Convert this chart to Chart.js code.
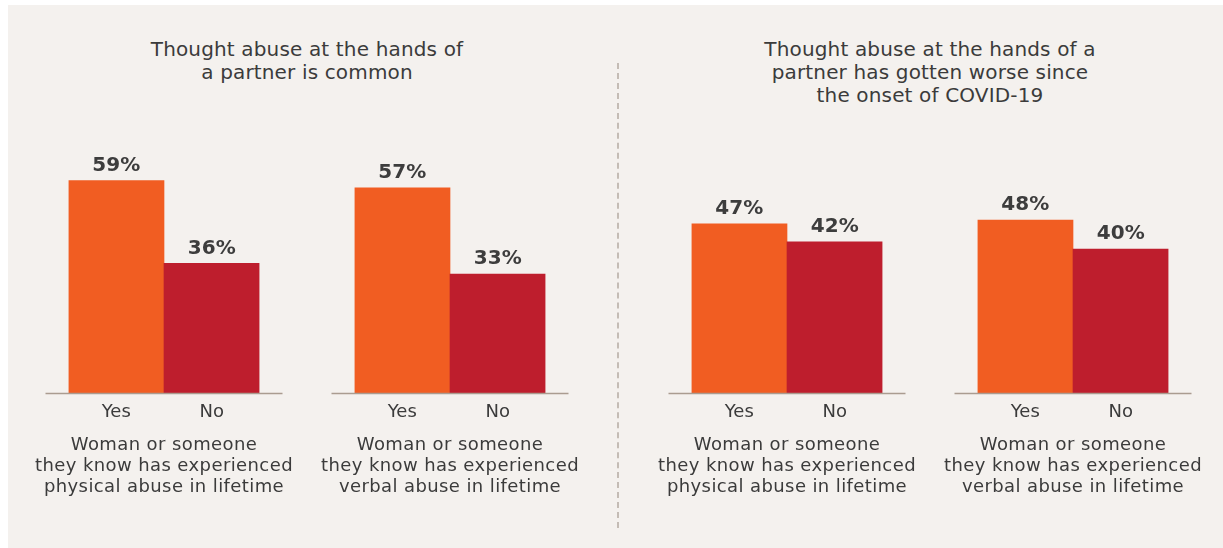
<!DOCTYPE html>
<html>
<head>
<meta charset="utf-8">
<script src="https://cdn.jsdelivr.net/npm/chart.js@4.4.0/dist/chart.umd.min.js"></script>
<style>
  body { margin: 0; background: #ffffff; font-family: "DejaVu Sans", sans-serif; }
  #panel { position: absolute; left: 8px; top: 5px; width: 1215px; height: 543px; background: #f4f1ee; }
  .title { position: absolute; width: 440px; text-align: center; font-size: 20px; line-height: 23px; color: #3b3b3b; letter-spacing: 0.15px; }
  .divider { position: absolute; left: 617px; top: 63px; height: 465px; border-left: 2px dashed #c4bcb5; }
  canvas { position: absolute; }
</style>
</head>
<body>
<div id="panel"></div>
<div class="title" id="title-left" style="left:87px; top:38px;"></div>
<div class="title" id="title-right" style="left:710px; top:38px;"></div>
<div class="divider"></div>
<canvas id="c1" width="300" height="374"></canvas>
<canvas id="c2" width="300" height="374"></canvas>
<canvas id="c3" width="300" height="374"></canvas>
<canvas id="c4" width="300" height="374"></canvas>
<script>
// ---------------- Data ----------------
const answers = ['Yes', 'No'];
const physicalCommon = [59, 36];
const verbalCommon = [57, 33];
const physicalWorse = [47, 42];
const verbalWorse = [48, 40];

const physicalLabel = ['Woman or someone', 'they know has experienced', 'physical abuse in lifetime'];
const verbalLabel = ['Woman or someone', 'they know has experienced', 'verbal abuse in lifetime'];

const titleLeft = ['Thought abuse at the hands of', 'a partner is common'];
const titleRight = ['Thought abuse at the hands of a', 'partner has gotten worse since', 'the onset of COVID-19'];

const barColors = ['#f15d22', '#be1e2d'];
const textColor = '#3b3b3b';
const fontName = '"DejaVu Sans", sans-serif';

document.getElementById('title-left').innerHTML = titleLeft.join('<br>');
document.getElementById('title-right').innerHTML = titleRight.join('<br>');

// ---------------- Plugins ----------------
// percent label above each bar
const valueLabels = {
  id: 'valueLabels',
  afterDatasetsDraw(chart) {
    const ctx = chart.ctx;
    const meta = chart.getDatasetMeta(0);
    ctx.save();
    ctx.font = 'bold 20px ' + fontName;
    ctx.fillStyle = '#3d3d3d';
    ctx.textAlign = 'center';
    ctx.textBaseline = 'middle';
    meta.data.forEach((bar, i) => {
      ctx.fillText(chart.data.datasets[0].data[i] + '%', bar.x, bar.y - 15);
    });
    ctx.restore();
  }
};

// baseline that runs a bit past the bars
const baseLine = {
  id: 'baseLine',
  afterDatasetsDraw(chart) {
    const ctx = chart.ctx;
    const a = chart.chartArea;
    ctx.save();
    ctx.strokeStyle = '#aa9c90';
    ctx.lineWidth = 1.5;
    ctx.beginPath();
    ctx.moveTo(a.left - 23, a.bottom + 0.5);
    ctx.lineTo(a.right + 23, a.bottom + 0.5);
    ctx.stroke();
    ctx.restore();
  }
};

// group caption under the Yes/No ticks (no max width squeeze)
const groupCaption = {
  id: 'groupCaption',
  afterDraw(chart, args, opts) {
    const ctx = chart.ctx;
    const a = chart.chartArea;
    const cx = (a.left + a.right) / 2;
    ctx.save();
    ctx.font = '18px ' + fontName;
    ctx.letterSpacing = '0.4px';
    ctx.fillStyle = textColor;
    ctx.textAlign = 'center';
    ctx.textBaseline = 'middle';
    opts.lines.forEach((line, i) => {
      ctx.fillText(line, cx, a.bottom + 52 + i * 21);
    });
    ctx.restore();
  }
};

// ---------------- Charts ----------------
function makeChart(id, centerX, values, groupLabel) {
  const canvas = document.getElementById(id);
  canvas.style.left = (centerX - 150) + 'px';
  canvas.style.top = '131px';

  return new Chart(canvas, {
    type: 'bar',
    data: {
      labels: answers,
      datasets: [{
        data: values,
        backgroundColor: barColors,
        borderWidth: 0,
        barPercentage: 1,
        categoryPercentage: 1
      }]
    },
    options: {
      responsive: false,
      animation: false,
      devicePixelRatio: 1,
      layout: { padding: { top: 10, left: 54.5, right: 54.5, bottom: 0 } },
      plugins: {
        legend: { display: false },
        tooltip: { enabled: false },
        groupCaption: { lines: groupLabel }
      },
      scales: {
        y: { display: false, min: 0, max: 70 },
        x: {
          offset: true,
          border: { display: false },
          grid: { display: false, drawTicks: false },
          ticks: {
            color: textColor,
            padding: 9,
            font: { family: fontName, size: 18 }
          },
          afterFit(axis) { axis.height = 112; }
        }
      }
    },
    plugins: [valueLabels, baseLine, groupCaption]
  });
}

makeChart('c1', 163.5, physicalCommon, physicalLabel);
makeChart('c2', 450, verbalCommon, verbalLabel);
makeChart('c3', 786.5, physicalWorse, physicalLabel);
makeChart('c4', 1072.5, verbalWorse, verbalLabel);
</script>
</body>
</html>
